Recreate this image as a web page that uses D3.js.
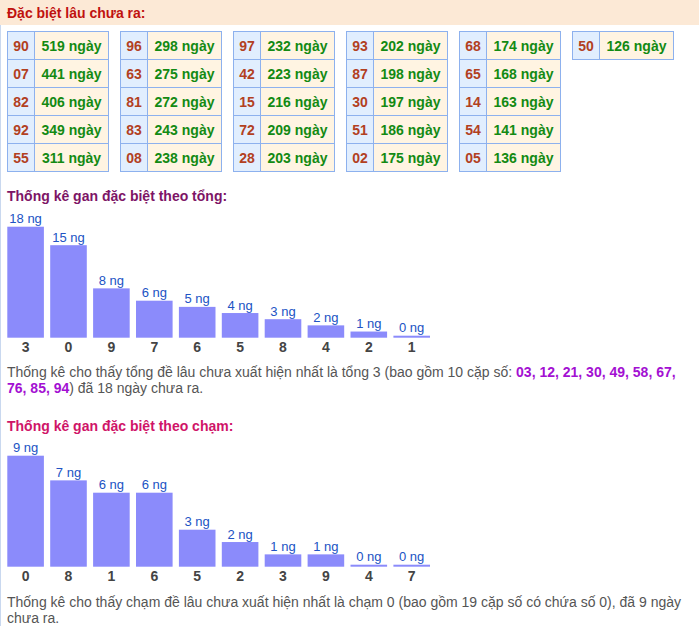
<!DOCTYPE html>
<html>
<head>
<meta charset="utf-8">
<script src="https://cdn.jsdelivr.net/npm/d3@7"></script>
<style>
  body { margin: 0; background: #fff; }
  svg { display: block; font-family: Arial, "Liberation Sans", sans-serif; }
</style>
</head>
<body>
<svg id="chart" width="699" height="626"></svg>
<script>
// pairs that have not appeared for a long time
const pairNumbers = ['90', '07', '82', '92', '55', '96', '63', '81', '83', '08', '97', '42', '15',
  '72', '28', '93', '87', '30', '51', '02', '68', '65', '14', '54', '05', '50'];
const pairDays = [519, 441, 406, 349, 311, 298, 275, 272, 243, 238, 232, 223, 216,
  209, 203, 202, 198, 197, 186, 175, 174, 168, 163, 141, 136, 126];

// gan by sum
const sumLabels = ['3', '0', '9', '7', '6', '5', '8', '4', '2', '1'];
const sumValues = [18, 15, 8, 6, 5, 4, 3, 2, 1, 0];

// gan by digit (chạm)
const touchLabels = ['0', '8', '1', '6', '5', '2', '3', '9', '4', '7'];
const touchValues = [9, 7, 6, 6, 3, 2, 1, 1, 0, 0];

const sumPairs = ['03', '12', '21', '30', '49', '58', '67', '76', '85', '94'];

const svg = d3.select('#chart');
const W = 699;

// header band
svg.append('rect').attr('x', 0).attr('y', 0).attr('width', W).attr('height', 25).attr('fill', '#fce9d6');
svg.append('line').attr('x1', 0.5).attr('x2', 0.5).attr('y1', 25).attr('y2', 626)
  .attr('stroke', '#c9d8ef');
svg.append('text').attr('x', 7).attr('y', 18)
  .attr('font-size', 14).attr('font-weight', 'bold').attr('fill', '#c0120f')
  .text('Đặc biệt lâu chưa ra:');

// tables, 5 rows per column
const colX = d3.scaleLinear().domain([0, 5]).range([7.5, 572.5]);
const rowY = d3.scaleLinear().domain([0, 5]).range([31.5, 171.5]);
const numW = 27, dayW = 74, rowH = 28;

const cells = svg.append('g').selectAll('g')
  .data(pairNumbers.map((n, i) => ({ n, d: pairDays[i], col: Math.floor(i / 5), row: i % 5 })))
  .enter().append('g')
  .attr('transform', d => `translate(${colX(d.col)},${rowY(d.row)})`);

cells.append('rect').attr('width', numW).attr('height', rowH)
  .attr('fill', '#e1eefe').attr('stroke', '#8db1ee');
cells.append('rect').attr('x', numW).attr('width', dayW).attr('height', rowH)
  .attr('fill', '#fff4e2').attr('stroke', '#8db1ee');
cells.append('text').attr('x', numW / 2).attr('y', 19)
  .attr('text-anchor', 'middle').attr('font-size', 14).attr('font-weight', 'bold')
  .attr('fill', '#b2401f').text(d => d.n);
cells.append('text').attr('x', numW + dayW / 2).attr('y', 19)
  .attr('text-anchor', 'middle').attr('font-size', 14).attr('font-weight', 'bold')
  .attr('fill', '#138a13').text(d => d.d + ' ngày');

function drawBars(labels, values, opts) {
  const g = svg.append('g');
  g.append('text').attr('x', 7).attr('y', opts.titleY)
    .attr('font-size', 14).attr('font-weight', 'bold').attr('fill', opts.titleColor)
    .text(opts.title);

  const x = d3.scaleBand().domain(labels).range([7.3, 430]).paddingInner(0.147).paddingOuter(0);
  const y = d3.scaleLinear().domain([0, d3.max(values)]).range([opts.base, opts.base - 111]);
  const data = labels.map((l, i) => ({ l, v: values[i] }));

  g.selectAll('.bar').data(data).enter().append('rect')
    .attr('class', 'bar')
    .attr('x', d => x(d.l))
    .attr('width', x.bandwidth())
    .attr('y', d => Math.min(y(d.v), opts.base - 2))
    .attr('height', d => Math.max(opts.base - y(d.v), 2))
    .attr('fill', '#8b8bfb');

  g.selectAll('.val').data(data).enter().append('text')
    .attr('x', d => x(d.l) + x.bandwidth() / 2)
    .attr('y', d => Math.min(y(d.v), opts.base - 2) - 3.5)
    .attr('text-anchor', 'middle').attr('font-size', 13).attr('fill', '#2153c4')
    .text(d => d.v + ' ng');

  g.selectAll('.lab').data(data).enter().append('text')
    .attr('x', d => x(d.l) + x.bandwidth() / 2)
    .attr('y', opts.base + 14)
    .attr('text-anchor', 'middle').attr('font-size', 14).attr('font-weight', 'bold').attr('fill', '#444')
    .text(d => d.l);

  const lines = opts.lines;
  lines.forEach((segs, li) => {
    const t = g.append('text').attr('x', 7).attr('y', opts.textY + li * 16)
      .attr('font-size', 14).attr('fill', '#555');
    segs.forEach(s => {
      t.append('tspan')
        .attr('font-weight', s.b ? 'bold' : null)
        .attr('fill', s.b ? '#a310d2' : null)
        .text(s.t);
    });
  });
}

drawBars(sumLabels, sumValues, {
  title: 'Thống kê gan đặc biệt theo tổng:',
  titleColor: '#7d1466',
  titleY: 201,
  base: 337.7,
  textY: 377,
  lines: [
    [{ t: 'Thống kê cho thấy tổng đề lâu chưa xuất hiện nhất là tổng ' + sumLabels[0] + ' (bao gồm 10 cặp số: ' },
     { t: sumPairs.slice(0, 7).join(', ') + ',', b: true }],
    [{ t: sumPairs.slice(7).join(', '), b: true },
     { t: ') đã ' + sumValues[0] + ' ngày chưa ra.' }]
  ]
});

drawBars(touchLabels, touchValues, {
  title: 'Thống kê gan đặc biệt theo chạm:',
  titleColor: '#cf1468',
  titleY: 431,
  base: 566.7,
  textY: 607,
  lines: [
    [{ t: 'Thống kê cho thấy chạm đề lâu chưa xuất hiện nhất là chạm ' + touchLabels[0] + ' (bao gồm 19 cặp số có chứa số 0), đã ' + touchValues[0] + ' ngày' }],
    [{ t: 'chưa ra.' }]
  ]
});
</script>
</body>
</html>
